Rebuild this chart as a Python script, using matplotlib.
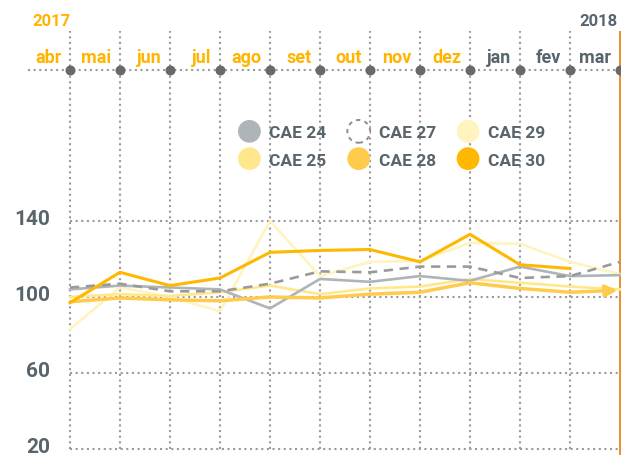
import numpy as np
import matplotlib
matplotlib.use('Agg')
import matplotlib.pyplot as plt
import matplotlib.patches as mpatches
from matplotlib.legend_handler import HandlerPatch

plt.rcParams['font.family'] = ['Roboto', 'DejaVu Sans']

# ---- dados ----
months = ['abr', 'mai', 'jun', 'jul', 'ago', 'set', 'out', 'nov', 'dez', 'jan', 'fev', 'mar']
year_start, year_end = '2017', '2018'
n_2017 = 9  # abr..dez
yticks = [20, 60, 100, 140]

cae24 = [104, 106, 105, 104, 94, 109.5, 108, 111, 108.5, 116, 111, 111.5]
cae25 = [100, 101.5, 100.5, 102.5, 106, 101.5, 104.5, 105.5, 109.5, 107.5, 105.5, 104]
cae27 = [105, 107, 103, 103, 107, 113.5, 113, 116, 116, 110, 111, 118.5]
cae28 = [97.5, 99.5, 98.5, 98, 100, 99.5, 101.5, 102.5, 107.5, 104.5, 102.5, 103.5]
cae29 = [83, 105, 100, 92.5, 140, 111, 118.5, 119, 128.5, 128, 118.5, 112]
cae30 = [97, 113, 106, 110, 123.5, 124.5, 125, 118.5, 133, 117, 115, np.nan]

YELLOW = '#FFB400'
GREY_TXT = '#59656C'
GRID = '#9A9A9A'
DOTTED = (0, (1, 1.7))


# conversao de pixels da imagem para coordenadas de dados (layout)
def px_x(p):
    return (p - 70) / 50.0


def px_y(p):
    return 100 + (298 - p) / 1.9


class HandlerCircle(HandlerPatch):
    def create_artists(self, legend, orig_handle, xdescent, ydescent,
                       width, height, fontsize, trans):
        center = (0.5 * width - xdescent, 0.5 * height - ydescent)
        p = mpatches.Circle(center, radius=8.2)
        self.update_prop(p, orig_handle, legend)
        p.set_transform(trans)
        return [p]


fig = plt.figure(figsize=(6.21, 4.56), dpi=100)
ax = fig.add_axes([0, 0, 1, 1])
ax.set_xlim(px_x(0), px_x(621))
ax.set_ylim(px_y(456), px_y(0))
ax.axis('off')

x = np.arange(len(months))

# grelha
ax.vlines(x[:-1], yticks[0], px_y(32), colors=GRID, linestyles=DOTTED, lw=1.5, zorder=1)
ax.hlines(yticks, 0, x[-1], colors=GRID, linestyles=DOTTED, lw=1.5, zorder=1)
ax.vlines(x[-1], px_y(456), px_y(32), colors='#E8861C', lw=1.3, zorder=1)

for t in yticks:
    ax.text(px_x(50), t - 1.6, str(t), ha='right', va='baseline', fontsize=15,
            fontweight='bold', color=GREY_TXT)

# linha do tempo no topo
t_y = px_y(71)
ax.hlines(t_y, px_x(28), px_x(625), colors=GRID, linestyles=DOTTED, lw=1.5, zorder=2)
ax.scatter(x, [t_y] * len(x), s=52, color='#696969', zorder=3, linewidths=0)
for i, m in enumerate(months):
    ax.text(i - 0.17, px_y(58), m, ha='right', va='center', fontsize=13,
            fontweight='bold', color=YELLOW if i < n_2017 else GREY_TXT)
ax.text(px_x(32), px_y(21), year_start, ha='left', va='center', fontsize=12,
        fontweight='bold', color=YELLOW)
ax.text(px_x(618), px_y(21), year_end, ha='right', va='center', fontsize=12,
        fontweight='bold', color=GREY_TXT)

# series
ax.plot(x, cae29, color='#FFF3BF', lw=1.9, zorder=4)
ax.plot(x, cae25, color='#FFE88C', lw=1.9, zorder=4)
ax.plot(x, cae24, color='#AEB5B9', lw=1.9, zorder=5)
ax.plot(x, cae27, color='#9A9A9A', lw=1.9, ls=(0, (3.5, 2.5)), zorder=5)
ax.plot(x[:-1], cae28[:-1], color='#FFCB4C', lw=2.5, zorder=6, solid_capstyle='butt')
ax.annotate('', xy=(x[-1] - 0.05, cae28[-1]), xytext=(x[-2], cae28[-2]),
            arrowprops=dict(arrowstyle='-|>,head_length=0.7,head_width=0.35',
                            color='#FFCB4C', lw=2.5, shrinkA=0, shrinkB=0), zorder=6)
ax.plot(x, cae30, color='#FFB800', lw=2.2, zorder=7)

# legenda
handles = [
    mpatches.Circle((0, 0), facecolor='#AEB5B9', edgecolor='none', label='CAE 24'),
    mpatches.Circle((0, 0), facecolor='#FFE88C', edgecolor='none', label='CAE 25'),
    mpatches.Circle((0, 0), facecolor='white', edgecolor='#8E8E8E', lw=1.4,
                    ls=(0, (2.2, 2.2)), label='CAE 27'),
    mpatches.Circle((0, 0), facecolor='#FFCB4C', edgecolor='none', label='CAE 28'),
    mpatches.Circle((0, 0), facecolor='#FFF3BF', edgecolor='none', label='CAE 29'),
    mpatches.Circle((0, 0), facecolor='#FFB800', edgecolor='none', label='CAE 30'),
]
leg = fig.legend(handles=handles, ncol=3, loc='center',
                 bbox_to_anchor=(393 / 621, 1 - 147.5 / 456),
                 frameon=False, handler_map={mpatches.Circle: HandlerCircle()},
                 prop=dict(weight='bold', size=12.5), handlelength=1.0,
                 handletextpad=0.65, columnspacing=1.35, labelspacing=0.7,
                 borderpad=0)
for t in leg.get_texts():
    t.set_color(GREY_TXT)

fig.savefig('out.png', dpi=100)
